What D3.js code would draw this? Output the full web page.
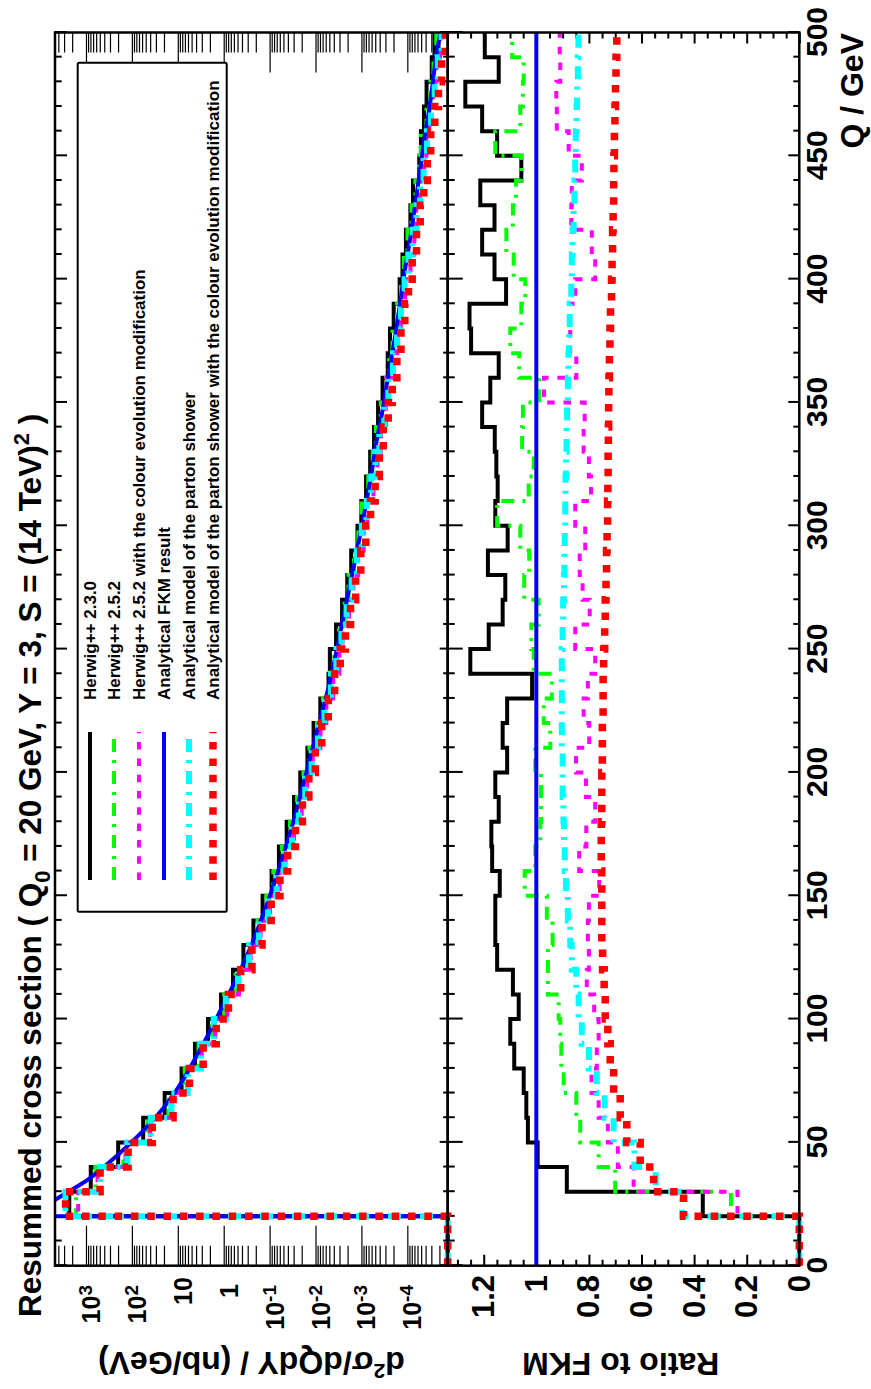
<!DOCTYPE html>
<html>
<head>
<meta charset="utf-8">
<script src="https://cdn.jsdelivr.net/npm/d3@7"></script>
<style>
    body { margin: 0; background: #ffffff; }
    svg { display: block; }
    text { font-family: "Liberation Sans", Arial, Helvetica, sans-serif; font-weight: bold; fill: #000; }
</style>
</head>
<body>
<svg id="chart" width="871" height="1389"></svg>
<script>
// 10 GeV bins from 0 to 500 GeV, lower edges
var binLow = [0, 10, 20, 30, 40, 50, 60, 70, 80, 90, 100, 110, 120, 130, 140, 150, 160, 170, 180, 190,
    200, 210, 220, 230, 240, 250, 260, 270, 280, 290, 300, 310, 320, 330, 340, 350, 360, 370, 380, 390,
    400, 410, 420, 430, 440, 450, 460, 470, 480, 490];

// analytical FKM result, nb/GeV per bin
var fkmBins = [0, 0, 6300, 890, 200, 55, 18.6, 7.9, 3.9, 2.0, 1.07, 0.575, 0.324, 0.195, 0.123, 0.0794,
    0.0537, 0.0363, 0.0257, 0.0186, 0.0135, 0.00977, 0.00708, 0.00513, 0.00389, 0.00302, 0.00234, 0.00182,
    0.00141, 0.00110, 8.7e-4, 6.9e-4, 5.6e-4, 4.6e-4, 3.6e-4, 2.95e-4, 2.34e-4, 1.91e-4, 1.58e-4, 1.32e-4,
    1.10e-4, 8.9e-5, 7.4e-5, 6.2e-5, 5.2e-5, 4.4e-5, 3.6e-5, 3.0e-5, 2.57e-5, 2.14e-5];
// FKM curve at Q = 20 GeV (threshold) and Q = 500 GeV
var fkmEnds = [1.2e4, 1.85e-5];

// ratios to FKM, per bin
var ratioHw230 = [0, 0, 0.367, 0.884, 0.995, 1.032, 1.038, 1.048, 1.084, 1.099, 1.067, 1.089, 1.149, 1.156,
    1.156, 1.139, 1.168, 1.171, 1.143, 1.156, 1.111, 1.128, 1.111, 1.016, 1.251, 1.181, 1.128, 1.118, 1.184,
    1.109, 1.156, 1.147, 1.152, 1.158, 1.206, 1.175, 1.143, 1.248, 1.254, 1.115, 1.159, 1.206, 1.159, 1.213,
    1.057, 1.149, 1.206, 1.270, 1.143, 1.196];
var ratioHw252 = [0, 0, 0.26, 0.70, 0.763, 0.833, 0.848, 0.896, 0.905, 0.909, 0.915, 0.956, 0.956, 0.938,
    0.96, 1.044, 1.004, 0.985, 0.982, 0.982, 1.004, 0.947, 0.972, 0.941, 1.01, 1.019, 0.991, 1.046, 1.027,
    1.061, 1.149, 1.029, 1.01, 1.054, 1.051, 0.989, 1.065, 1.099, 1.057, 1.042, 1.086, 1.114, 1.089, 1.077,
    1.057, 1.156, 1.061, 1.051, 1.048, 1.092];
var ratioHw252Col = [0, 0, 0.235, 0.63, 0.69, 0.728, 0.763, 0.79, 0.77, 0.763, 0.78, 0.808, 0.80, 0.804,
    0.80, 0.761, 0.837, 0.81, 0.776, 0.811, 0.849, 0.799, 0.82, 0.804, 0.776, 0.852, 0.797, 0.824, 0.835,
    0.814, 0.852, 0.792, 0.80, 0.82, 0.816, 0.971, 0.848, 0.871, 0.875, 0.852, 0.776, 0.789, 0.867, 0.865,
    0.827, 0.877, 0.922, 0.924, 0.909, 0.911];
var ratioShower = [0, 0, 0.445, 0.546, 0.627, 0.706, 0.74, 0.77, 0.80, 0.827, 0.839, 0.848, 0.865, 0.871,
    0.88, 0.887, 0.892, 0.895, 0.897, 0.90, 0.90, 0.903, 0.903, 0.903, 0.903, 0.90, 0.898, 0.895, 0.893,
    0.892, 0.89, 0.889, 0.887, 0.885, 0.883, 0.88, 0.878, 0.876, 0.873, 0.867, 0.865, 0.862, 0.858, 0.855,
    0.852, 0.85, 0.847, 0.845, 0.842, 0.84];
var ratioShowerCol = [0, 0, 0.44, 0.554, 0.605, 0.656, 0.681, 0.706, 0.719, 0.728, 0.738, 0.742, 0.748,
    0.751, 0.751, 0.751, 0.753, 0.753, 0.751, 0.751, 0.749, 0.749, 0.746, 0.746, 0.744, 0.74, 0.738, 0.735,
    0.733, 0.731, 0.729, 0.728, 0.727, 0.726, 0.725, 0.724, 0.722, 0.72, 0.718, 0.714, 0.712, 0.71, 0.708,
    0.706, 0.705, 0.703, 0.701, 0.699, 0.697, 0.694];
var fkmRatioLine = [[0, 1], [500, 1]];

var qMajorTicks = [0, 50, 100, 150, 200, 250, 300, 350, 400, 450, 500];
var ratioMajorTicks = [0, 0.2, 0.4, 0.6, 0.8, 1, 1.2];
var logMajorTicks = [1e3, 1e2, 10, 1, 0.1, 0.01, 1e-3, 1e-4];
var logTickLabels = [['10', '3'], ['10', '2'], ['10', ''], ['1', ''], ['10', '-1'], ['10', '-2'], ['10', '-3'], ['10', '-4']];

var series = [
    {label: 'Herwig++ 2.3.0', ratio: ratioHw230, color: '#000000', width: 4, dash: null},
    {label: 'Herwig++ 2.5.2', ratio: ratioHw252, color: '#00ff00', width: 4, dash: '13,8,3,8'},
    {label: 'Herwig++ 2.5.2 with the colour evolution modification', ratio: ratioHw252Col, color: '#ff00ff', width: 4, dash: '7.5,8.8'},
    {label: 'Analytical FKM result', ratio: null, color: '#0000ff', width: 4, dash: null},
    {label: 'Analytical model of the parton shower', ratio: ratioShower, color: '#00ffff', width: 6, dash: '13,8,3,8'},
    {label: 'Analytical model of the parton shower with the colour evolution modification', ratio: ratioShowerCol, color: '#ff0000', width: 7.5, dash: '7.5,8.8'}
];

// The whole ROOT canvas is turned by -90 deg; everything below is drawn
// in the unrotated frame (u to the right, v downwards) and then rotated.
var svg = d3.select('#chart');
var g = svg.append('g').attr('transform', 'translate(0,1389) rotate(-90)');

var uLeft = 123.3, uRight = 1356.5;
var vTop = 55, vMid = 447.7, vBottom = 799.3;
var logMin = 1.32e-5, logMax = 4730;

var qScale = d3.scaleLinear().domain([0, 500]).range([uLeft, uRight]);
var logScale = d3.scaleLog().domain([logMax, logMin]).range([vTop, vMid]);
var ratioScale = d3.scaleLinear().domain([1.337, 0]).range([vMid, vBottom]);

var defs = svg.append('defs');
defs.append('clipPath').attr('id', 'clipUp').append('rect')
    .attr('x', uLeft - 6).attr('y', vTop - 1).attr('width', uRight - uLeft + 12).attr('height', vMid - vTop + 6);
defs.append('clipPath').attr('id', 'clipLow').append('rect')
    .attr('x', uLeft - 6).attr('y', vMid - 1).attr('width', uRight - uLeft + 12).attr('height', vBottom - vMid + 6);

function logValue(v) {
    return logScale(Math.max(v, logMin));
}

function histPoints(values) {
    var pts = values.map(function (v, i) { return [binLow[i], v]; });
    pts.push([500, values[values.length - 1]]);
    return pts;
}

var stepUp = d3.line()
    .x(function (d) { return qScale(d[0]); })
    .y(function (d) { return logValue(d[1]); })
    .curve(d3.curveStepAfter);
var stepLow = d3.line()
    .x(function (d) { return qScale(d[0]); })
    .y(function (d) { return ratioScale(d[1]); })
    .curve(d3.curveStepAfter);

function styleLine(sel, s) {
    sel.attr('fill', 'none')
        .attr('stroke', s.color)
        .attr('stroke-width', s.width)
        .attr('stroke-dasharray', s.dash)
        .attr('stroke-linejoin', 'miter');
}

// ---- ticks
function tickGroup(axis, tx, ty, width) {
    g.append('g')
        .attr('transform', 'translate(' + tx + ',' + ty + ')')
        .call(axis)
        .call(function (sel) {
            sel.select('.domain').remove();
            sel.selectAll('text').remove();
            sel.selectAll('line').attr('stroke', '#000').attr('stroke-width', width);
        });
}

var qMinorTicks = d3.range(10, 500, 10).filter(function (q) { return q % 50 !== 0; });
var logMinorTicks = [];
for (var k = -6; k <= 3; k++) {
    for (var m = 2; m <= 9; m++) {
        var t = m * Math.pow(10, k);
        if (t > logMin && t < logMax) logMinorTicks.push(t);
    }
}
var ratioMinorTicks = d3.range(0.05, 1.33, 0.05).filter(function (r) {
    return Math.abs(r / 0.2 - Math.round(r / 0.2)) > 0.01;
});

// Q ticks
tickGroup(d3.axisBottom(qScale).tickValues(qMajorTicks).tickSize(12), 0, vTop, 2);
tickGroup(d3.axisBottom(qScale).tickValues(qMinorTicks).tickSize(6.7), 0, vTop, 2);
tickGroup(d3.axisTop(qScale).tickValues(qMajorTicks).tickSize(8), 0, vMid, 2);
tickGroup(d3.axisTop(qScale).tickValues(qMinorTicks).tickSize(4.5), 0, vMid, 2);
tickGroup(d3.axisBottom(qScale).tickValues(qMajorTicks).tickSize(15), 0, vMid, 2);
tickGroup(d3.axisBottom(qScale).tickValues(qMinorTicks).tickSize(7), 0, vMid, 2);
tickGroup(d3.axisTop(qScale).tickValues(qMajorTicks).tickSize(11), 0, vBottom, 2);
tickGroup(d3.axisTop(qScale).tickValues(qMinorTicks).tickSize(6), 0, vBottom, 2);

// log ticks
tickGroup(d3.axisRight(logScale).tickValues(logMajorTicks).tickSize(40), uLeft, 0, 1.2);
tickGroup(d3.axisRight(logScale).tickValues(logMinorTicks).tickSize(20), uLeft, 0, 1.2);
tickGroup(d3.axisLeft(logScale).tickValues(logMajorTicks).tickSize(40), uRight, 0, 1.2);
tickGroup(d3.axisLeft(logScale).tickValues(logMinorTicks).tickSize(20), uRight, 0, 1.2);

// ratio ticks
tickGroup(d3.axisRight(ratioScale).tickValues(ratioMajorTicks).tickSize(11), uLeft, 0, 2);
tickGroup(d3.axisRight(ratioScale).tickValues(ratioMinorTicks).tickSize(6), uLeft, 0, 2);
tickGroup(d3.axisLeft(ratioScale).tickValues(ratioMajorTicks).tickSize(11), uRight, 0, 2);
tickGroup(d3.axisLeft(ratioScale).tickValues(ratioMinorTicks).tickSize(6), uRight, 0, 2);

// ---- upper panel: cross sections
var upper = g.append('g').attr('clip-path', 'url(#clipUp)');
var lower = g.append('g').attr('clip-path', 'url(#clipLow)');

series.forEach(function (s) {
    if (s.ratio === null) {
        // FKM: smooth curve, zero below threshold
        upper.append('path')
            .attr('d', d3.line()([[qScale(0), logValue(0)], [qScale(20), logValue(0)], [qScale(20), logValue(fkmEnds[0])]]))
            .call(styleLine, s);
        var curvePts = [[20, fkmEnds[0]]];
        fkmBins.forEach(function (v, i) {
            if (v > 0) curvePts.push([binLow[i] + 5, v]);
        });
        curvePts.push([500, fkmEnds[1]]);
        upper.append('path')
            .attr('d', d3.line()
                .x(function (d) { return qScale(d[0]); })
                .y(function (d) { return logScale(d[1]); })
                .curve(d3.curveMonotoneX)(curvePts))
            .call(styleLine, s);
        lower.append('path').attr('d', stepLow(fkmRatioLine)).call(styleLine, s);
        return;
    }
    var values = fkmBins.map(function (f, i) { return f * s.ratio[i]; });
    upper.append('path').attr('d', stepUp(histPoints(values))).call(styleLine, s);
    lower.append('path').attr('d', stepLow(histPoints(s.ratio))).call(styleLine, s);
});

// ---- frames
g.append('rect').attr('x', uLeft).attr('y', vTop).attr('width', uRight - uLeft).attr('height', vMid - vTop)
    .attr('fill', 'none').attr('stroke', '#000').attr('stroke-width', 2.5);
g.append('rect').attr('x', uLeft).attr('y', vMid).attr('width', uRight - uLeft).attr('height', vBottom - vMid)
    .attr('fill', 'none').attr('stroke', '#000').attr('stroke-width', 2.5);

// ---- legend
var legendV = [90, 114, 139, 164, 189, 213];
var legend = g.append('g');
legend.append('rect').attr('x', 477.3).attr('y', 77.7).attr('width', 849).attr('height', 149)
    .attr('fill', '#ffffff').attr('stroke', '#000').attr('stroke-width', 2).attr('rx', 1.5);
series.forEach(function (s, i) {
    legend.append('line')
        .attr('x1', 509).attr('x2', 657).attr('y1', legendV[i]).attr('y2', legendV[i])
        .call(styleLine, s);
    legend.append('text')
        .attr('x', 689).attr('y', legendV[i] + 6)
        .style('font-size', '17px')
        .text(s.label);
});

// ---- labels
// log axis
logMajorTicks.forEach(function (t, i) {
    var lab = logTickLabels[i];
    var txt = g.append('text').attr('y', logScale(t) + 14).style('font-size', '25px');
    if (lab[1] === '') {
        txt.attr('x', 98).attr('text-anchor', 'middle').text(lab[0]);
    } else {
        txt.attr('x', 104).attr('text-anchor', 'end');
        txt.append('tspan').text(lab[0]);
        txt.append('tspan').attr('dy', -8).style('font-size', '19px').text(lab[1]);
    }
});

// ratio axis
g.append('g')
    .attr('transform', 'translate(' + uLeft + ',0)')
    .call(d3.axisLeft(ratioScale).tickValues(ratioMajorTicks).tickSize(0).tickPadding(9.3).tickFormat(d3.format('~g')))
    .call(function (sel) {
        sel.select('.domain').remove();
        sel.attr('font-family', null).attr('font-size', null);
        sel.selectAll('text').style('font-size', '31px').attr('fill', '#000');
    });

// Q axis
g.append('g')
    .attr('transform', 'translate(0,' + vBottom + ')')
    .call(d3.axisBottom(qScale).tickValues(qMajorTicks).tickSize(0).tickFormat(d3.format('d')))
    .call(function (sel) {
        sel.select('.domain').remove();
        sel.attr('font-family', null).attr('font-size', null);
        sel.selectAll('text').attr('y', 27.7).attr('dy', 0).style('font-size', '30px').attr('fill', '#000');
    });

// titles
var title = g.append('text').attr('x', 72).attr('y', 41).style('font-size', '31.5px');
title.append('tspan').text('Resummed cross section ( Q');
title.append('tspan').attr('dy', 9).style('font-size', '22px').text('0');
title.append('tspan').attr('dy', -9).text(' = 20 GeV, Y = 3, S = (14 TeV)');
title.append('tspan').attr('dy', -12).style('font-size', '22px').text('2');
title.append('tspan').attr('dy', 12).text(' )');

var yTitle = g.append('text')
    .attr('transform', 'translate(37,98) rotate(-90)')
    .attr('text-anchor', 'end')
    .style('font-size', '32px');
yTitle.append('tspan').text('d');
yTitle.append('tspan').attr('dy', -12).style('font-size', '21px').text('2');
yTitle.append('tspan').attr('dy', 12).text('σ/dQdY / (nb/GeV)');

g.append('text')
    .attr('transform', 'translate(36,522) rotate(-90)')
    .attr('text-anchor', 'end')
    .style('font-size', '32px')
    .text('Ratio to FKM');

g.append('text')
    .attr('x', 1356).attr('y', 863)
    .attr('text-anchor', 'end')
    .style('font-size', '32px')
    .text('Q / GeV');
</script>
</body>
</html>
